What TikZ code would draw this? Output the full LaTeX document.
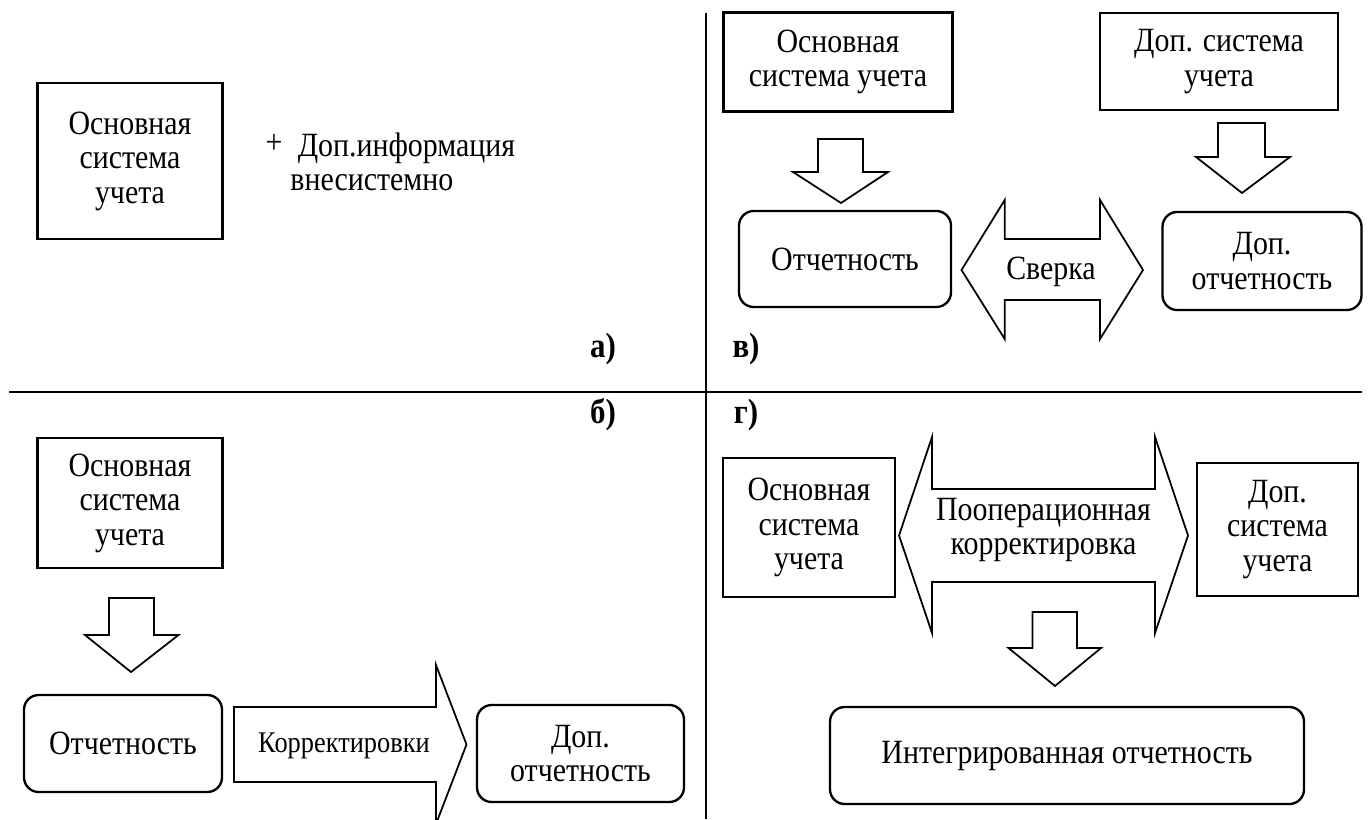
\documentclass[tikz,border=0pt]{standalone}
\usepackage{fontspec}
\setmainfont{Liberation Serif}[FakeStretch=0.88]
\tikzset{
  box/.style={draw, line width=1pt, align=center, inner sep=0pt},
  rbox/.style={box, rounded corners=0.22cm},
  blk/.style={draw, line width=0.75pt, line join=miter},
  lbl/.style={font=\fontsize{15}{17}\selectfont\bfseries, inner sep=0pt},
}
\begin{document}
\begin{tikzpicture}[x=0.015cm, y=-0.015cm, font=\fontsize{14.5}{14.7}\selectfont]
\useasboundingbox (0,0) rectangle (1370,819);

% dividing lines
\draw[line width=0.8pt] (9,392) -- (1362,392);
\draw[line width=0.8pt] (706,13) -- (706,819);

% a)
\node[box, minimum width=2.775cm, minimum height=2.34cm] (aosn) at (130,161) {Основная\\система\\учета};
\node[inner sep=0pt] (aplus) at (274,144) {+};
\node[inner sep=0pt, align=left, anchor=west] (ainfo) at (290,162) {\hspace*{0.11cm}Доп.информация\\внесистемно};
\node[lbl] (alab) at (603,349) {а)};

% b)
\node[lbl] (blab) at (603,415) {б)};
\node[box, minimum width=2.775cm, minimum height=1.95cm] (bosn) at (130,503) {Основная\\система\\учета};
\draw[blk] (109,598) -- (154,598) -- (154,635) -- (178.5,635) -- (131,672)
  -- (85,635) -- (109,635) -- cycle;
\node[rbox, minimum width=2.97cm, minimum height=1.455cm] (botch) at (123,743.5) {Отчетность};
\draw[blk] (234,707) -- (436,707) -- (436,665) -- (466.5,744.5) -- (436,824)
  -- (436,782) -- (234,782) -- cycle;
\node[font=\fontsize{12.8}{14}\selectfont] (bkorr) at (344,746) {Корректировки};
\node[rbox, minimum width=3.105cm, minimum height=1.455cm] (bdop) at (580.5,753.5) {Доп.\\отчетность};

% v)
\node[lbl] (vlab) at (746,349) {в)};
\node[box, minimum width=3.435cm, minimum height=1.485cm] (vosn) at (838,62) {Основная\\система учета};
\node[box, minimum width=3.57cm, minimum height=1.455cm] (vdopsys) at (1219,61.5) {Доп. система\\учета};
\draw[blk] (818,139) -- (863,139) -- (863,172) -- (888,172) -- (841,203)
  -- (793,172) -- (818,172) -- cycle;
\draw[blk] (1218,123) -- (1265,123) -- (1265,157) -- (1290,157) -- (1242,193)
  -- (1196,157) -- (1218,157) -- cycle;
\node[rbox, minimum width=3.18cm, minimum height=1.44cm] (votch) at (845,259) {Отчетность};
\draw[blk] (961.5,270) -- (1004.7,200) -- (1004.7,239) -- (1100,239) -- (1100,200)
  -- (1143,270) -- (1100,339) -- (1100,300) -- (1004.7,300) -- (1004.7,339) -- cycle;
\node (vsver) at (1051,272) {Сверка};
\node[rbox, minimum width=2.985cm, minimum height=1.47cm] (vdop) at (1262,261) {Доп.\\отчетность};

% g)
\node[lbl] (glab) at (746,415) {г)};
\node[box, minimum width=2.58cm, minimum height=2.085cm] (gosn) at (809,527.5) {Основная\\система\\учета};
\draw[blk] (899,535.5) -- (932,437) -- (932,489) -- (1155,489) -- (1155,437)
  -- (1188,535.5) -- (1155,633) -- (1155,582) -- (932,582) -- (932,633) -- cycle;
\node[align=center] (gkorr) at (1043.5,530) {Пооперационная\\корректировка};
\node[box, minimum width=2.415cm, minimum height=1.995cm] (gdop) at (1277.5,529.5) {Доп.\\система\\учета};
\draw[blk] (1032.5,612) -- (1077,612) -- (1077,648) -- (1101,648) -- (1055,686)
  -- (1008.5,648) -- (1032.5,648) -- cycle;
\node[rbox, minimum width=7.11cm, minimum height=1.455cm] (gint) at (1067,755.5) {Интегрированная отчетность};
\end{tikzpicture}
\end{document}
